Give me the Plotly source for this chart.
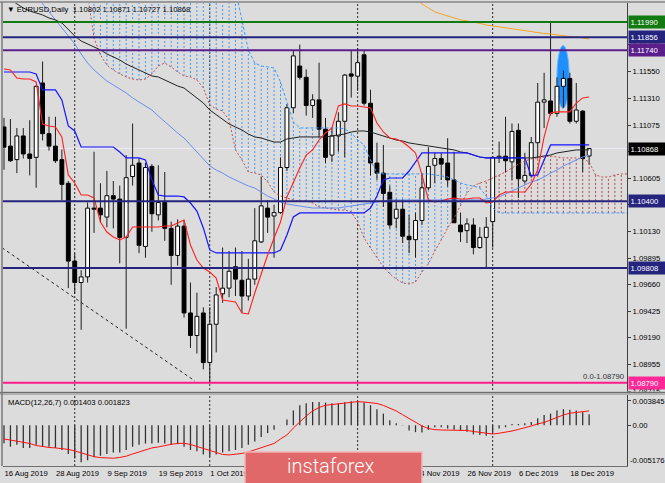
import plotly.graph_objects as go

# ---------------- data ----------------
tick_idx = [0, 8, 16, 24, 32, 40, 48, 56, 64, 72, 80, 88]
tick_text = ["16 Aug 2019", "28 Aug 2019", "9 Sep 2019", "19 Sep 2019", "1 Oct 2019",
             "11 Oct 2019", "23 Oct 2019", "4 Nov 2019", "14 Nov 2019", "26 Nov 2019",
             "6 Dec 2019", "18 Dec 2019"]
separator_idx = [11, 32, 55, 76]

opens = [1.1106, 1.1089, 1.1077, 1.1098, 1.1082, 1.1079, 1.1145, 1.1100, 1.1089, 1.1077,
         1.1056, 1.0987, 1.0968, 1.0973, 1.1034, 1.1034, 1.1026, 1.1045, 1.1042, 1.1008,
         1.1062, 1.1074, 1.1000, 1.1071, 1.1028, 1.1039, 1.1016, 1.0992, 1.1018, 1.0941,
         1.0921, 1.0941, 1.0897, 1.0931, 1.0958, 1.0963, 1.0982, 1.0970, 1.0956, 1.0971,
         1.1004, 1.1034, 1.1027, 1.1030, 1.1070, 1.1123, 1.1160, 1.1150, 1.1125, 1.1130,
         1.1104, 1.1081, 1.1098, 1.1111, 1.1153, 1.1151, 1.1170, 1.1127, 1.1074, 1.1065,
         1.1048, 1.1025, 1.1033, 1.1009, 1.1006, 1.1023, 1.1052, 1.1072, 1.1078, 1.1074,
         1.1059, 1.1019, 1.1014, 1.1019, 1.0999, 1.1008, 1.1022, 1.1079, 1.1080, 1.1075,
         1.1103, 1.1058, 1.1063, 1.1092, 1.1128, 1.1129, 1.1118, 1.1142, 1.1149, 1.1111,
         1.1120, 1.10802]
highs = [1.1114, 1.1113, 1.1105, 1.1105, 1.1112, 1.1143, 1.1164, 1.1115, 1.1115, 1.1086,
         1.1058, 1.0994, 1.0979, 1.1039, 1.1084, 1.1056, 1.1067, 1.1058, 1.1054, 1.1081,
         1.1109, 1.1078, 1.1074, 1.1073, 1.1072, 1.1066, 1.1022, 1.1024, 1.1023, 1.0968,
         1.0959, 1.0946, 1.0946, 1.0964, 1.0999, 1.0996, 1.0999, 1.0996, 1.0989, 1.1034,
         1.1062, 1.1041, 1.1037, 1.1079, 1.1126, 1.1174, 1.1179, 1.1157, 1.1135, 1.1163,
         1.1114, 1.1105, 1.1119, 1.1153, 1.1174, 1.1176, 1.1174, 1.1139, 1.1092, 1.1090,
         1.1054, 1.1042, 1.1042, 1.1028, 1.1030, 1.1065, 1.1088, 1.1083, 1.1083, 1.1096,
         1.1084, 1.1030, 1.1025, 1.1025, 1.1017, 1.1026, 1.1080, 1.1093, 1.1115, 1.1109,
         1.1109, 1.1083, 1.1097, 1.1145, 1.1154, 1.1200, 1.1150, 1.1156, 1.1154, 1.1145,
         1.1121, 1.10871]
lows = [1.1068, 1.1075, 1.1065, 1.1078, 1.1063, 1.1052, 1.1094, 1.1085, 1.1074, 1.1041,
        1.0963, 1.0958, 1.0926, 1.0968, 1.1012, 1.1021, 1.1017, 1.1016, 1.0985, 1.0927,
        1.1054, 1.0994, 1.0990, 1.1013, 1.1023, 1.1005, 1.0966, 1.0983, 1.0937, 1.0910,
        1.0905, 1.0891, 1.0879, 1.0906, 1.0950, 1.0955, 1.0956, 1.0941, 1.0952, 1.0966,
        1.1003, 1.1012, 1.0990, 1.1029, 1.1067, 1.1118, 1.1148, 1.1116, 1.1114, 1.1097,
        1.1074, 1.1075, 1.1084, 1.1079, 1.1132, 1.1138, 1.1125, 1.1063, 1.1059, 1.1035,
        1.1016, 1.1016, 1.1003, 1.0994, 1.0990, 1.1019, 1.1050, 1.1056, 1.1059, 1.1053,
        1.1021, 1.1004, 1.1003, 1.0993, 1.0998, 1.0981, 1.0999, 1.1074, 1.1066, 1.1059,
        1.1043, 1.1056, 1.1061, 1.1078, 1.1105, 1.1116, 1.1115, 1.1123, 1.1109, 1.1109,
        1.1066, 1.10727]
closes = [1.1088, 1.1076, 1.1098, 1.1082, 1.1078, 1.1142, 1.1100, 1.1089, 1.1076, 1.1055,
          1.0987, 1.0968, 1.0973, 1.1034, 1.1033, 1.1028, 1.1045, 1.1042, 1.1008, 1.1061,
          1.1072, 1.1001, 1.1070, 1.1029, 1.1039, 1.1016, 1.0992, 1.1018, 1.0941, 1.0921,
          1.0938, 1.0897, 1.0931, 1.0957, 1.0963, 1.0978, 1.0971, 1.0956, 1.0971, 1.1005,
          1.1036, 1.1026, 1.1030, 1.1070, 1.1123, 1.1169, 1.1150, 1.1125, 1.1130, 1.1104,
          1.1079, 1.1098, 1.1111, 1.1152, 1.1151, 1.1163, 1.1127, 1.1074, 1.1065, 1.1047,
          1.1019, 1.1033, 1.1009, 1.1006, 1.1023, 1.1052, 1.1071, 1.1078, 1.1073, 1.1059,
          1.1021, 1.1013, 1.1020, 1.0999, 1.1008, 1.1017, 1.1079, 1.1080, 1.1076, 1.1102,
          1.1060, 1.1063, 1.1092, 1.1128, 1.1130, 1.1118, 1.1142, 1.1149, 1.1111, 1.1121,
          1.1078, 1.10868]

tenkan = [1.11574, 1.11565, 1.11494, 1.11485, 1.11485, 1.11459, 1.11086, 1.11068, 1.11059, 1.10971,
          1.10634, 1.10563, 1.10456, 1.10456, 1.10430, 1.10217, 1.10128, 1.10084, 1.10057, 1.10084,
          1.10172, 1.10172, 1.10172, 1.10172, 1.10172, 1.10181, 1.10181, 1.10208, 1.10235, 1.10013,
          1.09880, 1.09809, 1.09773, 1.09720, 1.09525, 1.09516, 1.09507, 1.09410, 1.09401, 1.09587,
          1.09764, 1.09924, 1.10075, 1.10217, 1.10439, 1.10572, 1.10696, 1.10811, 1.10856, 1.10944,
          1.11006, 1.11051, 1.11246, 1.11264, 1.11246, 1.11246, 1.11237, 1.11228, 1.11095, 1.11015,
          1.10962, 1.10953, 1.10926, 1.10882, 1.10829, 1.10634, 1.10412, 1.10394, 1.10403, 1.10421,
          1.10430, 1.10421, 1.10421, 1.10430, 1.10430, 1.10385, 1.10394, 1.10456, 1.10483, 1.10483,
          1.10483, 1.10483, 1.10554, 1.10678, 1.10971, 1.11184, 1.11193, 1.11193, 1.11193, 1.11272,
          1.11317, 1.11326]
kijun = [1.11547, 1.11547, 1.11547, 1.11547, 1.11547, 1.11530, 1.11388, 1.11388, 1.11388, 1.11299,
         1.11068, 1.11024, 1.10882, 1.10882, 1.10882, 1.10882, 1.10882, 1.10882, 1.10838, 1.10785,
         1.10785, 1.10785, 1.10767, 1.10589, 1.10456, 1.10447, 1.10447, 1.10447, 1.10439, 1.10385,
         1.10314, 1.10164, 1.09969, 1.09942, 1.09942, 1.09942, 1.09942, 1.09942, 1.09942, 1.09942,
         1.09942, 1.09942, 1.09942, 1.09969, 1.10102, 1.10261, 1.10297, 1.10297, 1.10297, 1.10297,
         1.10297, 1.10297, 1.10297, 1.10297, 1.10297, 1.10297, 1.10297, 1.10341, 1.10447, 1.10589,
         1.10607, 1.10607, 1.10607, 1.10669, 1.10749, 1.10829, 1.10829, 1.10829, 1.10829, 1.10829,
         1.10829, 1.10829, 1.10829, 1.10811, 1.10793, 1.10785, 1.10785, 1.10785, 1.10785, 1.10785,
         1.10785, 1.10785, 1.10625, 1.10634, 1.10767, 1.10900, 1.10900, 1.10900, 1.10900, 1.10900,
         1.10900, 1.10900]
span_a = [1.1240, 1.1240, 1.1240, 1.1240, 1.1240, 1.1240, 1.1240, 1.1240, 1.1240, 1.1240,
          1.1240, 1.1240, 1.1240, 1.12230, 1.11849, 1.11698, 1.11609, 1.11565, 1.11530, 1.11503,
          1.11485, 1.11476, 1.11485, 1.11530, 1.11601, 1.11627, 1.11592, 1.11547, 1.11512, 1.11503,
          1.11476, 1.11405, 1.11255, 1.11219, 1.11201, 1.11122, 1.10856, 1.10767, 1.10660, 1.10651,
          1.10634, 1.10572, 1.10483, 1.10447, 1.10430, 1.10412, 1.10403, 1.10403, 1.10385, 1.10350,
          1.10341, 1.10332, 1.10323, 1.10323, 1.10306, 1.10217, 1.10075, 1.09986, 1.09898, 1.09818,
          1.09756, 1.09711, 1.09676, 1.09667, 1.09685, 1.09773, 1.09844, 1.09960, 1.10057, 1.10164,
          1.10252, 1.10368, 1.10474, 1.10536, 1.10563, 1.10581, 1.10607, 1.10634, 1.10660, 1.10696,
          1.10731, 1.10758, 1.10776, 1.10785, 1.10793, 1.10802, 1.10793, 1.10785, 1.10785, 1.10785,
          1.10776, 1.10749, 1.10634, 1.10616, 1.10616, 1.10634, 1.10643, 1.10643]
span_b = [1.1230, 1.1230, 1.1230, 1.1230, 1.1230, 1.1230, 1.1230, 1.1230, 1.1230, 1.1230,
          1.1230, 1.1230, 1.1230, 1.1230, 1.1230, 1.1230, 1.1230, 1.1230, 1.1230, 1.1230,
          1.1230, 1.1230, 1.1230, 1.1230, 1.1230, 1.1230, 1.1230, 1.1230, 1.1230, 1.1230,
          1.1230, 1.1230, 1.1230, 1.1230, 1.1230, 1.1230, 1.12275, 1.12009, 1.11743, 1.11627,
          1.11601, 1.11592, 1.11583, 1.11459, 1.11272, 1.11104, 1.11051, 1.11051, 1.11051, 1.11051,
          1.11051, 1.11051, 1.11051, 1.11042, 1.11006, 1.10944, 1.10900, 1.10767, 1.10651, 1.10643,
          1.10643, 1.10643, 1.10643, 1.10643, 1.10643, 1.10643, 1.10643, 1.10634, 1.10625, 1.10616,
          1.10589, 1.10563, 1.10545, 1.10536, 1.10518, 1.10447, 1.10341, 1.10297, 1.10297, 1.10297,
          1.10297, 1.10297, 1.10297, 1.10297, 1.10297, 1.10297, 1.10297, 1.10297, 1.10297, 1.10297,
          1.10297, 1.10297, 1.10297, 1.10297, 1.10297, 1.10297, 1.10297, 1.10297]
ma_black = [1.12230, 1.12195, 1.12151, 1.12115, 1.12088, 1.12071, 1.12053, 1.12026, 1.12009, 1.11982,
            1.11920, 1.11867, 1.11822, 1.11796, 1.11769, 1.11743, 1.11707, 1.11680, 1.11654, 1.11618,
            1.11592, 1.11565, 1.11539, 1.11512, 1.11503, 1.11476, 1.11450, 1.11423, 1.11405, 1.11361,
            1.11317, 1.11272, 1.11210, 1.11166, 1.11122, 1.11086, 1.11059, 1.11033, 1.10997, 1.10971,
            1.10962, 1.10944, 1.10926, 1.10926, 1.10953, 1.10962, 1.10971, 1.10971, 1.10971, 1.10971,
            1.10971, 1.10980, 1.10989, 1.10997, 1.11015, 1.11024, 1.11024, 1.11015, 1.10997, 1.10980,
            1.10962, 1.10944, 1.10935, 1.10918, 1.10909, 1.10900, 1.10891, 1.10882, 1.10873, 1.10864,
            1.10856, 1.10838, 1.10829, 1.10811, 1.10793, 1.10785, 1.10785, 1.10785, 1.10785, 1.10785,
            1.10785, 1.10785, 1.10785, 1.10793, 1.10802, 1.10811, 1.10829, 1.10838, 1.10847, 1.10856,
            1.10856, 1.10856]
ma_light = [1.12541, 1.12479, 1.12417, 1.12355, 1.12292, 1.12221, 1.12151, 1.12080, 1.12009, 1.11947,
            1.11876, 1.11796, 1.11707, 1.11627, 1.11565, 1.11512, 1.11467, 1.11432, 1.11397, 1.11361,
            1.11317, 1.11281, 1.11246, 1.11210, 1.11157, 1.11104, 1.11051, 1.11006, 1.10962, 1.10900,
            1.10838, 1.10767, 1.10714, 1.10678, 1.10651, 1.10616, 1.10589, 1.10563, 1.10536, 1.10518,
            1.10483, 1.10447, 1.10421, 1.10394, 1.10376, 1.10368, 1.10359, 1.10350, 1.10341, 1.10341,
            1.10341, 1.10341, 1.10341, 1.10350, 1.10359, 1.10368, 1.10376, 1.10385, 1.10394, 1.10403,
            1.10412, 1.10412, 1.10412, 1.10412, 1.10412, 1.10412, 1.10412, 1.10412, 1.10412, 1.10412,
            1.10412, 1.10412, 1.10412, 1.10412, 1.10412, 1.10421, 1.10430, 1.10439, 1.10465, 1.10492,
            1.10518, 1.10545, 1.10572, 1.10589, 1.10616, 1.10651, 1.10678, 1.10714, 1.10740, 1.10767,
            1.10793, 1.10811]
ma_orange_start = 60
ma_orange = [1.12363, 1.12319, 1.12275, 1.12239, 1.12204, 1.12151, 1.12115, 1.12080, 1.12062, 1.12044,
             1.12026, 1.12009, 1.12000, 1.11991, 1.11978, 1.11964, 1.11955, 1.11946, 1.11938, 1.11929,
             1.11920, 1.11911, 1.11902, 1.11893, 1.11889, 1.11884, 1.11876, 1.11867, 1.11862, 1.11858,
             1.11849, 1.11840]

macd_hist = [-0.00229, -0.00273, -0.00248, -0.00289, -0.00289, -0.00248, -0.00273, -0.00273, -0.00289, -0.00314,
             -0.00364, -0.00421, -0.00470, -0.00445, -0.00405, -0.00388, -0.00364, -0.00347, -0.00347, -0.00314,
             -0.00273, -0.00248, -0.00232, -0.00232, -0.00223, -0.00232, -0.00248, -0.00240, -0.00273, -0.00314,
             -0.00331, -0.00372, -0.00397, -0.00372, -0.00347, -0.00331, -0.00314, -0.00289, -0.00248, -0.00207,
             -0.00149, -0.00100, -0.00058, 0.00002, 0.00074, 0.00189, 0.00255, 0.00280, 0.00296, 0.00296,
             0.00288, 0.00280, 0.00280, 0.00292, 0.00304, 0.00308, 0.00288, 0.00255, 0.00205, 0.00148,
             0.00065, 0.00024, 0.00004, -0.00067, -0.00087, -0.00091, -0.00058, -0.00025, -0.00025, -0.00042,
             -0.00058, -0.00067, -0.00083, -0.00116, -0.00124, -0.00133, -0.00091, -0.00042, -0.00025, 0.00016,
             0.00016, 0.00024, 0.00040, 0.00090, 0.00131, 0.00148, 0.00189, 0.00205, 0.00197, 0.00189,
             0.00164, 0.001403]
macd_signal = [-0.00174, -0.00187, -0.00206, -0.00219, -0.00231, -0.00257, -0.00273, -0.00282, -0.00288, -0.00295,
               -0.00307, -0.00326, -0.00352, -0.00377, -0.00399, -0.00411, -0.00418, -0.00419, -0.00409, -0.00393,
               -0.00365, -0.00340, -0.00313, -0.00288, -0.00275, -0.00257, -0.00242, -0.00231, -0.00229, -0.00244,
               -0.00269, -0.00295, -0.00323, -0.00352, -0.00371, -0.00377, -0.00371, -0.00358, -0.00340, -0.00313,
               -0.00288, -0.00263, -0.00231, -0.00174, -0.00123, -0.00035, 0.00046, 0.00118, 0.00182, 0.00226,
               0.00254, 0.00264, 0.00279, 0.00287, 0.00295, 0.00300, 0.00295, 0.00287, 0.00277, 0.00252,
               0.00216, 0.00182, 0.00134, 0.00086, 0.00035, -0.00009, -0.00041, -0.00056, -0.00060, -0.00060,
               -0.00060, -0.00060, -0.00066, -0.00079, -0.00091, -0.00104, -0.00111, -0.00101, -0.00089, -0.00073,
               -0.00053, -0.00035, -0.00009, 0.00017, 0.00035, 0.00068, 0.00101, 0.00131, 0.00153, 0.00166,
               0.00178, 0.001823]
macd_scale_text = ["0.003845", "0.00"]
macd_scale_vals = [0.00309, 0.0]
macd_min_text = "-0.005176"
macd_min_pos = -0.0045

level_prices = [1.11990, 1.11856, 1.11740, 1.10400, 1.09808, 1.08790]
bid_price = 1.10868
price_ticks = [1.11790, 1.11550, 1.11310, 1.11075, 1.10840, 1.10605, 1.10370, 1.10130,
               1.09895, 1.09660, 1.09425, 1.09190, 1.08955, 1.08715]
trend_idx = [-0.3, 29.7]
trend_price = [1.09988, 1.08806]
ellipse_idx = [86.0, 87.9]
ellipse_price = [1.11225, 1.11781]
header_text = "▼ EURUSD,Daily  1.10802 1.10871 1.10727 1.10868"
macd_text = "MACD(12,26,7) 0.001403 0.001823"
fib_text = "0.0-1.08790"

for arr in (opens, highs, lows, closes, tenkan, kijun, ma_black, ma_light, macd_hist, macd_signal):
    assert len(arr) == 92, len(arr)
assert len(span_a) == 98 and len(span_b) == 98
assert len(ma_orange) == 32

# ---------------- styling / layout ----------------
W, H = 665, 483
ML, MR, MT, MB = 3, 38, 3, 17
PH = H - MT - MB
PW = W - ML - MR
def py(p):
    return (H - MB - p) / PH
def px(p):
    return (p - ML) / PW

X_RANGE = [-0.156, 96.89]
Y_RANGE = [1.08709, 1.12159]
Y2_RANGE = [-0.005176, 0.003845]
F = "Liberation Sans, Arial, sans-serif"
FS = 7.7
BG = "#dcdcdc"
level_colors = ["#117a11", "#24247e", "#5b1f8c", "#24247e", "#24247e", "#ff1a8c"]

n = len(opens)
idx = list(range(n))
fig = go.Figure()

# wicks (outside body only)
wx, wy = [], []
for i in idx:
    top = max(opens[i], closes[i]); bot = min(opens[i], closes[i])
    wx += [i, i, None, i, i, None]
    wy += [highs[i], top, None, bot, lows[i], None]
fig.add_trace(go.Scatter(x=wx, y=wy, mode="lines", line=dict(color="#1e1e1e", width=1),
                         hoverinfo="skip", showlegend=False))

# bodies
for bull, fill in ((True, "white"), (False, "black")):
    sel = [i for i in idx if (closes[i] >= opens[i]) == bull]
    fig.add_trace(go.Bar(
        x=sel,
        y=[max(abs(closes[i] - opens[i]), 0.00002) for i in sel],
        base=[min(opens[i], closes[i]) for i in sel],
        width=0.6, marker=dict(color=fill, line=dict(color="black", width=1)),
        hoverinfo="skip", showlegend=False))

# cloud boundaries
cx = list(range(len(span_a)))
fig.add_trace(go.Scatter(x=cx, y=span_a, mode="lines",
                         line=dict(color="#c05050", width=1, dash="2px,2px"), showlegend=False))
fig.add_trace(go.Scatter(x=cx, y=span_b, mode="lines",
                         line=dict(color="#3c9cff", width=1, dash="3px,2px"), showlegend=False))
# moving averages
fig.add_trace(go.Scatter(x=idx, y=ma_light, mode="lines", line=dict(color="#6a8cf0", width=1), showlegend=False))
fig.add_trace(go.Scatter(x=idx, y=ma_black, mode="lines", line=dict(color="#222222", width=1), showlegend=False))
fig.add_trace(go.Scatter(x=list(range(ma_orange_start, ma_orange_start + len(ma_orange))), y=ma_orange,
                         mode="lines", line=dict(color="#f5a623", width=1), showlegend=False))
# ichimoku lines
fig.add_trace(go.Scatter(x=idx, y=kijun, mode="lines", line=dict(color="#1515ff", width=1.2), showlegend=False))
fig.add_trace(go.Scatter(x=idx, y=tenkan, mode="lines", line=dict(color="#ff2020", width=1.1), showlegend=False))
# trend line
fig.add_trace(go.Scatter(x=trend_idx, y=trend_price, mode="lines",
                         line=dict(color="#222222", width=1, dash="3px,3px"), showlegend=False))

# MACD
fig.add_trace(go.Bar(x=idx, y=macd_hist, width=0.2, marker=dict(color="#333333", line=dict(width=0)),
                     xaxis="x2", yaxis="y2", showlegend=False, hoverinfo="skip"))
fig.add_trace(go.Scatter(x=idx, y=macd_signal, mode="lines", line=dict(color="#ff1010", width=1),
                         xaxis="x2", yaxis="y2", showlegend=False))

shapes = []
# cloud hatching (behind candles)
for i, (a, b) in enumerate(zip(span_a, span_b)):
    lo, hi = min(a, b), max(a, b)
    if lo >= Y_RANGE[1]:
        continue
    hi = min(hi, Y_RANGE[1])
    col = "#3c9cff" if b > a else "#b84a4a"
    shapes.append(dict(type="line", xref="x", yref="y", x0=i, x1=i, y0=lo, y1=hi,
                       line=dict(color=col, width=1, dash="2px,2px"), layer="below"))
# ellipse
shapes.append(dict(type="circle", xref="x", yref="y", x0=ellipse_idx[0], x1=ellipse_idx[1],
                   y0=ellipse_price[0], y1=ellipse_price[1], fillcolor="#1e8fff",
                   line=dict(color="#6ab4ff", width=1), layer="below"))
# bid line
shapes.append(dict(type="line", xref="paper", yref="y", x0=0, x1=1, y0=bid_price, y1=bid_price,
                   line=dict(color="#ececf8", width=1), layer="below"))
# period separators
for s in separator_idx:
    shapes.append(dict(type="line", xref="x", yref="paper", x0=s, x1=s, y0=0, y1=1,
                       line=dict(color="#2a2a2a", width=1, dash="2px,2px"), layer="below"))
# horizontal levels
for p, c in zip(level_prices, level_colors):
    shapes.append(dict(type="line", xref="paper", yref="y", x0=0, x1=1, y0=p, y1=p,
                       line=dict(color=c, width=2)))
# frames
shapes.append(dict(type="rect", xref="paper", yref="paper", x0=px(0), x1=px(W), y0=py(395), y1=py(391.5),
                   fillcolor="#b0b0b0", line=dict(width=0)))
shapes.append(dict(type="line", xref="paper", yref="paper", x0=px(0), x1=px(W), y0=py(392.5), y1=py(392.5),
                   line=dict(color="#6e6e6e", width=1)))
shapes.append(dict(type="line", xref="paper", yref="paper", x0=px(0), x1=px(W), y0=py(2), y1=py(2),
                   line=dict(color="#9a9a9a", width=2)))
shapes.append(dict(type="line", xref="paper", yref="paper", x0=px(2), x1=px(2), y0=0, y1=py(2),
                   line=dict(color="#7a7a7a", width=1.5)))
# logo box
shapes.append(dict(type="rect", xref="paper", yref="paper", x0=px(245), x1=px(422), y0=py(486), y1=py(452),
                   fillcolor="#e06868", line=dict(color="#f2b4b4", width=1.5)))

annotations = []
box_prices = [1.11990, 1.11856, 1.11740, bid_price, 1.10400, 1.09808, 1.08790]
box_colors = ["#117a11", "#24247e", "#5b1f8c", "#000000", "#24247e", "#24247e", "#ff2a98"]
for p, c in zip(box_prices, box_colors):
    annotations.append(dict(xref="paper", x=1, xanchor="left", xshift=1, yref="y", y=p, yanchor="middle",
                            text=f"{p:.5f}", showarrow=False, bgcolor=c, borderpad=1.5, width=33, align="left",
                            font=dict(color="white", size=FS, family=F)))
annotations.append(dict(xref="paper", x=0, xanchor="left", xshift=2, yref="paper", y=1, yanchor="top",
                        yshift=0, text=header_text, showarrow=False, font=dict(color="black", size=FS, family=F)))
annotations.append(dict(xref="paper", x=0, xanchor="left", xshift=3, yref="paper", y=py(395), yanchor="top",
                        yshift=-1, text=macd_text, showarrow=False, font=dict(color="black", size=FS, family=F)))
annotations.append(dict(xref="paper", x=1, xanchor="right", xshift=-1, yref="y", y=level_prices[-1],
                        yanchor="bottom", yshift=0, text=fib_text, showarrow=False,
                        font=dict(color="#303030", size=FS, family=F)))
annotations.append(dict(xref="paper", x=1, xanchor="left", xshift=1, yref="y2", y=macd_min_pos,
                        yanchor="middle", text=macd_min_text, showarrow=False,
                        font=dict(color="black", size=FS, family=F)))
annotations.append(dict(xref="paper", x=px(331), yref="paper", y=py(466), xanchor="center", yanchor="middle",
                        text="instaforex", showarrow=False,
                        font=dict(color="white", size=20, family="Roboto, Open Sans, sans-serif", weight=300)))

tick_font = dict(size=FS, family=F, color="black")
fig.update_layout(
    width=W, height=H, margin=dict(l=ML, r=MR, t=MT, b=MB, autoexpand=False),
    paper_bgcolor=BG, plot_bgcolor=BG, barmode="overlay", hovermode=False, showlegend=False,
    font=dict(family=F, size=FS, color="black"),
    xaxis=dict(domain=[0, 1], range=X_RANGE, anchor="y", showticklabels=False, showgrid=False,
               zeroline=False, showline=False, fixedrange=True, automargin=False),
    xaxis2=dict(domain=[0, 1], range=X_RANGE, anchor="y2", matches="x", showgrid=False, zeroline=False,
                tickmode="array", tickvals=tick_idx, ticktext=tick_text, ticks="", tickangle=0,
                ticklabelposition="outside right", automargin=False,
                showline=True, linecolor="#707070", linewidth=1, tickfont=tick_font,
                fixedrange=True),
    yaxis=dict(domain=[py(392), 1], range=Y_RANGE, side="right", anchor="x", showgrid=False, zeroline=False,
               tickmode="array", tickvals=price_ticks, ticktext=[f"{v:.5f}" for v in price_ticks],
               ticks="outside", ticklen=3, tickcolor="#404040", showline=True, linecolor="#404040",
               tickfont=tick_font, fixedrange=True, automargin=False),
    yaxis2=dict(domain=[0, py(395)], range=Y2_RANGE, side="right", anchor="x2", showgrid=False, zeroline=False,
                tickmode="array", tickvals=macd_scale_vals, ticktext=macd_scale_text,
                ticks="outside", ticklen=3, tickcolor="#404040", showline=True, linecolor="#404040",
                tickfont=tick_font, fixedrange=True, automargin=False),
    shapes=shapes, annotations=annotations,
)

fig.write_html("out.html", config={"displayModeBar": False, "staticPlot": True},
               post_script="document.body.style.margin='0px';document.body.style.padding='0px';"
                           "document.body.style.overflow='hidden';document.body.style.background='" + BG + "';")
